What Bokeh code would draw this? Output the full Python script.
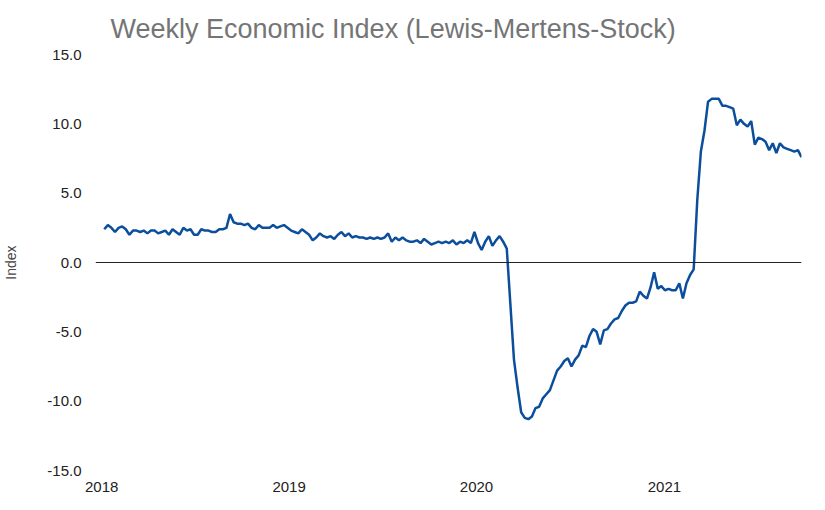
import datetime as dt
from bokeh.plotting import figure
from bokeh.models import FixedTicker, CustomJSTickFormatter, Span, NumeralTickFormatter
from bokeh.embed import file_html
from bokeh.resources import INLINE

v2018 = [2.4,2.7,2.5,2.2,2.5,2.6,2.4,2.0,2.3,2.3, 2.2,2.3,2.1,2.3,2.3,2.1,2.2,2.3,2.0,2.4,
         2.2,2.0,2.5,2.3,2.4,2.0,2.0,2.4,2.3,2.3, 2.2,2.2,2.4,2.4,2.5,3.5,2.9,2.8,2.8,2.7,
         2.8,2.5,2.4,2.7,2.5,2.5,2.5,2.7,2.5,2.6, 2.7,2.5]
v2019 = [2.3,2.2,2.1,2.4,2.2,2.0,1.6,1.8,2.1,1.9, 1.8,1.9,1.7,2.0,2.2,1.9,2.1,1.8,1.9,1.8,
         1.8,1.7,1.8,1.7,1.8,1.7,1.8,2.1,1.5,1.8, 1.6,1.8,1.6,1.5,1.5,1.6,1.4,1.7,1.5,1.3,
         1.4,1.5,1.4,1.5,1.4,1.6,1.3,1.5,1.4,1.6, 1.4,2.2]
v2020_21 = [1.4,0.9,1.5,1.9,1.2,1.6,1.9,1.5,1.0,
            -3,-7,-9,-10.8,-11.2,-11.3,-11.1,-10.5,-10.4,-9.8,
            -9.5,-9.2,-8.5,-7.8,-7.5,-7.1,-6.9,-7.5,-7.0,-6.7,
            -6.0,-6.1,-5.3,-4.8,-5.0,-5.9,-4.9,-4.8,-4.4,-4.1,
            -4.0,-3.5,-3.1,-2.9,-2.9,-2.8,-2.1,-2.4,-2.6,-1.8,
            -0.7,-1.9,-1.7,-2.0,-1.9,-2.0,-2.0,-1.5,-2.6,-1.5,
            -0.9,-0.5,4.5,8.0,9.5,11.6,11.8,11.8,11.8,11.3,
            11.3,11.2,11.1,9.9,10.3,10.0,9.8,10.2,8.5,9.0,
            8.9,8.7,8.1,8.6,7.9,8.6,8.3,8.2,8.1,8.0,
            8.1,7.6]
values = v2018 + v2019 + v2020_21
start = dt.datetime(2018, 1, 6)
dates = [start + dt.timedelta(weeks=i) for i in range(len(values))]
year_ticks = [dt.datetime(y, 1, 1).timestamp() * 1000 for y in (2018, 2019, 2020, 2021)]
y_ticks = [-15, -10, -5, 0, 5, 10, 15]

FONT = "Liberation Sans"
p = figure(width=809, height=494, x_axis_type="datetime", output_backend="svg",
           toolbar_location=None, y_range=(-15, 15),
           x_range=(dt.datetime(2017, 12, 20), dates[-1]),
           title="Weekly Economic Index (Lewis-Mertens-Stock)")
p.title.text_font = FONT
p.title.text_font_size = "27px"
p.title.text_font_style = "normal"
p.title.text_color = "#757575"
p.title.offset = 15
p.title.standoff = 22
p.min_border_left = 55
p.min_border_right = 8
p.min_border_top = 14
p.min_border_bottom = 8
p.outline_line_color = None
p.xgrid.grid_line_color = None
p.ygrid.grid_line_color = None

p.line(dates, values, line_color="#0b4f9c", line_width=2.5)
p.add_layout(Span(location=0, dimension="width", line_color="#222222", line_width=1))

p.xaxis.ticker = FixedTicker(ticks=year_ticks)
p.xaxis.formatter = CustomJSTickFormatter(code="return new Date(tick).getUTCFullYear().toString();")
p.yaxis.ticker = FixedTicker(ticks=y_ticks)
p.yaxis.formatter = NumeralTickFormatter(format="0.0")
p.yaxis.axis_label = "Index"
for ax in (p.xaxis, p.yaxis):
    ax.axis_line_color = None
    ax.major_tick_line_color = None
    ax.minor_tick_line_color = None
    ax.major_label_text_font = FONT
    ax.major_label_text_font_size = "15px"
    ax.major_label_text_color = "#222222"
p.yaxis.axis_label_text_font = FONT
p.yaxis.axis_label_text_font_size = "14px"
p.yaxis.axis_label_text_font_style = "normal"
p.yaxis.major_label_standoff = 8
p.yaxis.axis_label_standoff = 25

open("out.html", "w").write(file_html(p, INLINE))
